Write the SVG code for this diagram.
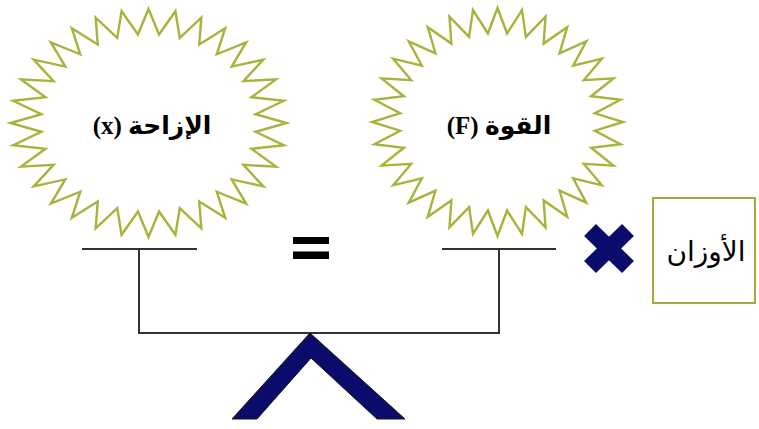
<svg xmlns="http://www.w3.org/2000/svg" xmlns:xlink="http://www.w3.org/1999/xlink" width="759" height="429" viewBox="0 0 759 429">
<style>
.star{fill:#fff;stroke:#a9b23a;stroke-width:2.4;stroke-linejoin:miter;vector-effect:non-scaling-stroke}
.lbl{font-family:"Liberation Serif","DejaVu Sans",serif;font-weight:bold;font-size:25px;fill:#000;text-anchor:middle}
.beam{fill:none;stroke:#333;stroke-width:2}
.navy{fill:#0b0b6b;stroke:#1a1a10;stroke-width:1}
</style>
<defs>
<path id="star32" class="star" d="M100,0 L77.62,7.65 L98.08,19.51 L74.64,22.64 L92.39,38.27 L68.79,36.77 L83.15,55.56 L60.29,49.48 L70.71,70.71 L49.48,60.29 L55.56,83.15 L36.77,68.79 L38.27,92.39 L22.64,74.64 L19.51,98.08 L7.65,77.62 L0,100 L-7.65,77.62 L-19.51,98.08 L-22.64,74.64 L-38.27,92.39 L-36.77,68.79 L-55.56,83.15 L-49.48,60.29 L-70.71,70.71 L-60.29,49.48 L-83.15,55.56 L-68.79,36.77 L-92.39,38.27 L-74.64,22.64 L-98.08,19.51 L-77.62,7.65 L-100,0 L-77.62,-7.65 L-98.08,-19.51 L-74.64,-22.64 L-92.39,-38.27 L-68.79,-36.77 L-83.15,-55.56 L-60.29,-49.48 L-70.71,-70.71 L-49.48,-60.29 L-55.56,-83.15 L-36.77,-68.79 L-38.27,-92.39 L-22.64,-74.64 L-19.51,-98.08 L-7.65,-77.62 L0,-100 L7.65,-77.62 L19.51,-98.08 L22.64,-74.64 L38.27,-92.39 L36.77,-68.79 L55.56,-83.15 L49.48,-60.29 L70.71,-70.71 L60.29,-49.48 L83.15,-55.56 L68.79,-36.77 L92.39,-38.27 L74.64,-22.64 L98.08,-19.51 L77.62,-7.65 Z"/>
</defs>
<rect width="759" height="429" fill="#fff"/>

<g id="connectors">
<line class="beam" x1="82" y1="249" x2="197" y2="249"/>
<line class="beam" x1="442" y1="249" x2="556" y2="249"/>
<path class="beam" d="M139,249 V333 H499 V249"/>
</g>

<g id="star-x">
<use xlink:href="#star32" transform="translate(148.5,123) scale(1.38,1.14)"/>
<text class="lbl" x="152" y="134" direction="rtl">الإزاحة (x)</text>
</g>

<g id="star-f">
<use xlink:href="#star32" transform="translate(497.5,122) scale(1.255,1.14)"/>
<text class="lbl" x="499" y="134" direction="rtl">القوة (F)</text>
</g>

<g id="equals">
<rect x="293" y="237" width="36" height="7" fill="#000"/>
<rect x="293" y="251.5" width="36" height="7.5" fill="#000"/>
</g>

<g id="fulcrum">
<polygon class="navy" points="310,333 405,419 377,419 311,358 257,419 232,419"/>
</g>

<g id="times">
<line x1="590" y1="230" x2="628" y2="267" stroke="#0b0b6b" stroke-width="17"/>
<line x1="628" y1="230" x2="590" y2="267" stroke="#0b0b6b" stroke-width="17"/>
</g>

<g id="weights">
<rect x="653" y="198" width="102" height="105" fill="#fff" stroke="#a5a83a" stroke-width="2"/>
<text x="706" y="261" font-family="'Liberation Serif','DejaVu Sans',serif" font-size="28" text-anchor="middle" fill="#000" direction="rtl">الأوزان</text>
</g>
</svg>
